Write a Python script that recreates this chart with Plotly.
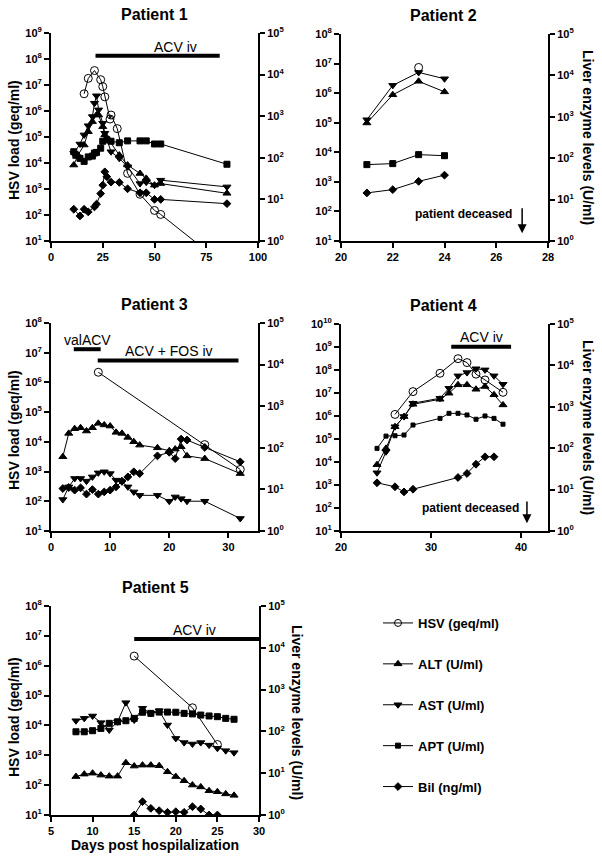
import plotly.graph_objects as go

# ---------------- data ----------------
# Patient 1
p1_hsv_day = [16, 18, 21, 24, 25, 26, 28.5, 29, 32, 37, 43, 50, 53, 85]
p1_hsv = [4.6e6, 1.8e7, 3.6e7, 1.6e7, 8.7e6, 3.5e6, 4.9e5, 7e5, 2.1e5, 4e3, 630, 150, 105, 1]
p1_alt_day = [11, 13, 16, 18, 20, 22, 23, 25, 26, 28, 33, 37, 43, 46, 50, 53, 85]
p1_alt = [67, 116, 203, 425, 740, 1070, 1070, 560, 355, 267, 116, 67, 42, 32, 22, 24, 14]
p1_ast_day = [11, 14, 16, 18, 20, 21, 22, 23, 25, 26, 29, 33, 37, 43, 46, 50, 53, 85]
p1_ast = [128, 215, 355, 590, 980, 2050, 3100, 1420, 680, 390, 140, 97, 61, 24, 26, 22, 29, 20]
p1_apt_day = [11, 12, 14, 16, 18, 20, 21, 22, 24, 25, 27, 29, 33, 37, 43, 46, 50, 53, 85]
p1_apt = [140, 115, 97, 82, 105, 110, 130, 135, 170, 250, 270, 250, 230, 255, 255, 255, 215, 215, 70]
p1_bil_day = [11, 14, 16, 18, 21, 22, 24, 25, 26, 27, 29, 33, 37, 43, 46, 50, 53, 85]
p1_bil = [5.8, 4.0, 5.8, 5.0, 6.6, 7.7, 13.8, 22, 46, 35, 26, 25.6, 18, 14.4, 14.4, 10, 10, 7.9]

# Patient 2
p2_hsv_day = [23]
p2_hsv = [7.4e6]
p2_day = [21, 22, 23, 24]
p2_alt = [710, 3400, 7200, 4000]
p2_ast = [850, 5750, 11800, 8300]
p2_apt = [70, 74, 122, 115]
p2_bil = [14.5, 17.4, 27.6, 39]

# Patient 3
p3_hsv_day = [8, 26, 32]
p3_hsv = [2.2e6, 8.1e3, 1.18e3]
p3_day = [2, 3, 4, 5, 6, 7, 8, 9, 10, 11, 12, 13, 14, 15, 18, 20, 21, 22, 23, 26, 32]
p3_alt = [61, 222, 288, 303, 253, 303, 387, 355, 333, 235, 222, 178, 140, 116, 100, 85, 93, 106, 64, 55, 24]
p3_ast = [5.7, 11.5, 18.3, 18.3, 15.8, 20, 25, 26.5, 24, 16.7, 15.2, 11.5, 8.7, 7.2, 7.2, 5.2, 6.6, 6.0, 5.2, 5.2, 2.0]
p3_bil = [10.5, 11.1, 9.6, 10.9, 7.7, 9.9, 7.7, 8.7, 9.6, 11.5, 15.8, 20, 26.5, 24, 64, 78, 55, 162, 154, 102, 46]

# Patient 4
p4_hsv_day = [26, 28, 31, 33, 34, 35, 36, 38]
p4_hsv = [1.17e6, 1.15e7, 7.2e7, 3.1e8, 2.1e8, 6.6e7, 3.7e7, 1.07e7]
p4_day = [24, 25, 26, 27, 28, 31, 32, 33, 34, 35, 36, 37, 38]
p4_alt = [40, 99, 330, 580, 1150, 1520, 2130, 3400, 3400, 2650, 3100, 1950, 1110]
p4_ast = [25.5, 82, 330, 580, 1220, 1610, 2800, 5600, 6700, 8300, 7800, 5600, 3500]
p4_apt = [99, 196, 200, 208, 363, 525, 695, 695, 635, 500, 600, 525, 380]
p4_bil_day = [24, 26, 27, 28, 33, 34, 35, 36, 37]
p4_bil = [14.6, 11.7, 8.8, 10.2, 19.6, 24.5, 41, 62, 62]

# Patient 5
p5_hsv_day = [15, 22, 25]
p5_hsv = [2.1e6, 3.9e4, 2.3e3]
p5_day = [8, 9, 10, 11, 12, 13, 14, 15, 16, 17, 18, 19, 20, 21, 22, 23, 24, 25, 26, 27]
p5_alt = [8.3, 9.5, 10, 9.0, 8.5, 8.5, 17.8, 14.8, 15.6, 15.6, 15.1, 10.8, 8.3, 6.6, 5.2, 4.7, 3.8, 3.6, 3.2, 2.95]
p5_ast = [180, 205, 234, 162, 108, 170, 487, 187, 357, 270, 314, 142, 68, 54, 50, 54, 47, 39.5, 34.6, 31]
p5_apt = [98, 98, 104, 118, 156, 170, 180, 205, 287, 270, 290, 290, 287, 270, 262, 246, 234, 225, 205, 195]
p5_bil_day = [15, 16, 17, 18, 19, 20, 21, 22, 23, 24, 25]
p5_bil = [1.0, 2.08, 1.44, 1.27, 1.16, 1.2, 1.16, 1.58, 1.39, 1.0, 1.0]

# treatments (start day, end day, label)
p1_treat = [(21.5, 81.5, "ACV iv")]
p3_treat = [(3.85, 8.4, "valACV"), (7.9, 31.7, "ACV + FOS iv")]
p4_treat = [(32.25, 38.9, "ACV iv")]
p5_treat = [(15, 30, "ACV iv")]

legend_names = ["HSV (geq/ml)", "ALT (U/ml)", "AST (U/ml)", "APT (U/ml)", "Bil (ng/ml)"]

# ---------------- layout helpers ----------------
W, H = 602, 858
FONT = "Liberation Sans"


def px_x(a, b):
    return [a / W, b / W]


def px_y(top, bottom):
    return [1 - bottom / H, 1 - top / H]


panels = [
    dict(xd=px_x(51, 258), yd=px_y(33, 241), xr=[0, 100], xt=[0, 25, 50, 75, 100], yl=9),
    dict(xd=px_x(341, 548), yd=px_y(34, 241), xr=[20, 28], xt=[20, 22, 24, 26, 28], yl=8),
    dict(xd=px_x(51, 258), yd=px_y(323, 531), xr=[0, 35], xt=[0, 10, 20, 30], yl=8),
    dict(xd=px_x(341, 548), yd=px_y(324, 531), xr=[20, 43], xt=[20, 30, 40], yl=10),
    dict(xd=px_x(51, 259), yd=px_y(606, 815), xr=[5, 30], xt=[5, 10, 15, 20, 25, 30], yl=8),
]

fig = go.Figure()
layout = dict(
    width=W, height=H, margin=dict(l=0, r=0, t=0, b=0, pad=0, autoexpand=False),
    paper_bgcolor="white", plot_bgcolor="white",
    font=dict(family=FONT, color="black"),
    showlegend=True,
)

tickfont = dict(family=FONT, size=11, color="black", weight="bold")
common = dict(showline=True, linewidth=2, linecolor="black", ticks="outside",
              ticklen=5, tickwidth=2, tickcolor="black", showgrid=False, zeroline=False,
              tickfont=tickfont, automargin=False)

for i, p in enumerate(panels, start=1):
    xk = "xaxis" if i == 1 else f"xaxis{i}"
    yl_idx = 2 * i - 1
    yr_idx = 2 * i
    ylk = "yaxis" if yl_idx == 1 else f"yaxis{yl_idx}"
    yrk = f"yaxis{yr_idx}"
    ylname = "y" if yl_idx == 1 else f"y{yl_idx}"
    xname = "x" if i == 1 else f"x{i}"
    layout[xk] = dict(domain=p["xd"], anchor=ylname, range=p["xr"], tickvals=p["xt"], **common)
    lv = list(range(1, p["yl"] + 1))
    layout[ylk] = dict(
        domain=p["yd"], anchor=xname, type="log", range=[1, p["yl"]],
        tickvals=[10 ** v for v in lv], ticktext=[f"10<sup>{v}</sup>" for v in lv], **common)
    rv = list(range(0, 6))
    layout[yrk] = dict(
        overlaying=ylname, side="right", anchor=xname, type="log", range=[0, 5],
        tickvals=[10 ** v for v in rv], ticktext=[f"10<sup>{v}</sup>" for v in rv], **common)

line_style = dict(color="black", width=1)
sym = dict(hsv=("circle-open", 8), alt=("triangle-up", 7), ast=("triangle-down", 7),
           apt=("square", 6), bil=("diamond", 6))


def add(i, key, xs, ys, right=True, size=None):
    xa = "x" if i == 1 else f"x{i}"
    ya = f"y{2 * i}" if right else ("y" if i == 1 else f"y{2 * i - 1}")
    s, sz = sym[key]
    fig.add_trace(go.Scatter(
        x=xs, y=ys, mode="lines+markers", xaxis=xa, yaxis=ya,
        line=line_style,
        marker=dict(symbol=s, size=size or sz, color="black", line=dict(color="black", width=1)),
        showlegend=False, hoverinfo="skip",
    ))


# Patient 1
add(1, "apt", p1_apt_day, p1_apt)
add(1, "bil", p1_bil_day, p1_bil)
add(1, "alt", p1_alt_day, p1_alt)
add(1, "ast", p1_ast_day, p1_ast)
add(1, "hsv", p1_hsv_day, p1_hsv, right=False)
# Patient 2
add(2, "apt", p2_day, p2_apt)
add(2, "bil", p2_day, p2_bil)
add(2, "alt", p2_day, p2_alt)
add(2, "ast", p2_day, p2_ast)
add(2, "hsv", p2_hsv_day, p2_hsv, right=False)
# Patient 3
add(3, "bil", p3_day, p3_bil)
add(3, "alt", p3_day, p3_alt)
add(3, "ast", p3_day, p3_ast)
add(3, "hsv", p3_hsv_day, p3_hsv, right=False)
# Patient 4
add(4, "apt", p4_day, p4_apt, size=4)
add(4, "bil", p4_bil_day, p4_bil)
add(4, "alt", p4_day, p4_alt)
add(4, "ast", p4_day, p4_ast)
add(4, "hsv", p4_hsv_day, p4_hsv, right=False)
# Patient 5
add(5, "apt", p5_day, p5_apt)
add(5, "alt", p5_day, p5_alt)
add(5, "ast", p5_day, p5_ast)
add(5, "bil", p5_bil_day, p5_bil)
add(5, "hsv", p5_hsv_day, p5_hsv, right=False)

# legend entries
leg_sym = [("circle-open", 7), ("triangle-up", 7), ("triangle-down", 7), ("square", 5), ("diamond", 6)]
for k, (name, (s, sz)) in enumerate(zip(legend_names, leg_sym)):
    fig.add_trace(go.Scatter(
        x=[None], y=[None], mode="lines+markers", name=name, legendgroup=f"g{k}",
        line=line_style, marker=dict(symbol=s, size=sz, color="black", line=dict(color="black", width=1)),
        xaxis="x5", yaxis="y10",
    ))

layout["legend"] = dict(
    x=378 / W, y=1 - 608 / H, xanchor="left", yanchor="top",
    font=dict(family=FONT, size=13, color="black", weight="bold"),
    tracegroupgap=21, itemwidth=30, traceorder="grouped", bgcolor="rgba(0,0,0,0)",
)

shapes = []
annotations = []

# treatment bars: (panel, list, bar y frac, text y frac, text center day)
treat_specs = [
    (1, p1_treat, [0.891], [0.935], [60]),
    (3, p3_treat, [0.874, 0.82], [0.918, 0.865], [6.25, 19.9]),
    (4, p4_treat, [0.89], [0.939], [35.6]),
    (5, p5_treat, [0.842], [0.885], [22.2]),
]
for i, lst, bys, tys, txs in treat_specs:
    xa = "x" if i == 1 else f"x{i}"
    ydom = ("y" if i == 1 else f"y{2 * i - 1}") + " domain"
    for (a, b, lab), by, ty, tx in zip(lst, bys, tys, txs):
        shapes.append(dict(type="line", xref=xa, yref=ydom, x0=a, x1=b, y0=by, y1=by,
                           line=dict(color="black", width=4)))
        annotations.append(dict(text=lab, xref=xa, yref=ydom, x=tx, y=ty, showarrow=False,
                                font=dict(family=FONT, size=14, color="black"),
                                xanchor="center", yanchor="middle"))

# patient deceased notes
for i, tx, ty, ax_day, y_tip, y_tail in [(2, 24.75, 0.129, 27, 0.037, 0.166),
                                           (4, 34.35, 0.113, 40.66, 0.037, 0.15)]:
    xa = f"x{i}"
    ydom = f"y{2 * i - 1} domain"
    annotations.append(dict(text="patient deceased", xref=xa, yref=ydom, x=tx, y=ty, showarrow=False,
                            font=dict(family=FONT, size=12, color="black", weight="bold"),
                            xanchor="center", yanchor="middle"))
    annotations.append(dict(text="", xref=xa, yref=ydom, x=ax_day, y=y_tip, axref=xa, ayref=ydom,
                            ax=ax_day, ay=y_tail, showarrow=True, arrowhead=2, arrowsize=1.2,
                            arrowwidth=1.5, arrowcolor="black"))

# panel titles
for k, (cx, cy) in enumerate([(154, 14), (443, 15), (154, 304), (443, 305), (155, 587)], start=1):
    annotations.append(dict(text=f"Patient {k}", xref="paper", yref="paper", x=cx / W, y=1 - cy / H,
                            showarrow=False, font=dict(family=FONT, size=16, color="black", weight="bold"),
                            xanchor="center", yanchor="middle"))

# axis titles
for cx, cy in [(14, 140), (14, 430), (14, 717)]:
    annotations.append(dict(text="HSV load (geq/ml)", xref="paper", yref="paper", x=cx / W, y=1 - cy / H,
                            textangle=-90, showarrow=False,
                            font=dict(family=FONT, size=14, color="black", weight="bold"),
                            xanchor="center", yanchor="middle"))
for cx, cy in [(588, 137), (588, 427), (297, 712)]:
    annotations.append(dict(text="Liver enzyme levels (U/ml)", xref="paper", yref="paper", x=cx / W,
                            y=1 - cy / H, textangle=90, showarrow=False,
                            font=dict(family=FONT, size=14, color="black", weight="bold"),
                            xanchor="center", yanchor="middle"))
annotations.append(dict(text="Days post hospilalization", xref="paper", yref="paper", x=155 / W,
                        y=1 - 845 / H, showarrow=False,
                        font=dict(family=FONT, size=14, color="black", weight="bold"),
                        xanchor="center", yanchor="middle"))

layout["shapes"] = shapes
layout["annotations"] = annotations
fig.update_layout(**layout)
fig.write_html("out.html", config={"displayModeBar": False},
               post_script="document.body.style.margin='0';document.body.style.overflow='hidden';")
